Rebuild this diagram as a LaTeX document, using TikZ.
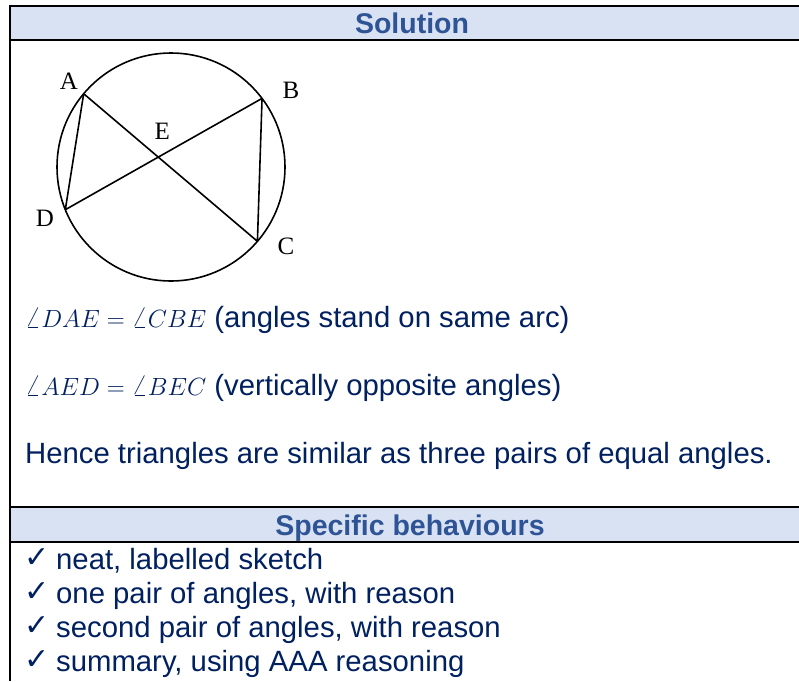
\documentclass[tikz,border=0pt]{standalone}
\usepackage{fontspec}
\setmainfont{Liberation Sans}
\newfontfamily\figfont{Liberation Serif}
\newfontfamily\tickfont{DejaVu Sans}
\usepackage{amsmath}
\usepackage{tikz}
\usetikzlibrary{calc, intersections}
\definecolor{headblue}{HTML}{2F5496}
\definecolor{headfill}{HTML}{D9E2F3}
\definecolor{textnavy}{HTML}{002060}

\begin{document}
\begin{tikzpicture}[x=1pt,y=1pt,
    rule/.style={line width=2.2pt},
    figline/.style={line width=1.6pt},
    headtext/.style={font=\fontsize{28.5}{30}\selectfont\bfseries, text=headblue, anchor=base, inner sep=0pt},
    bodytext/.style={font=\fontsize{29.3}{31}\selectfont, text=textnavy, anchor=base west, inner sep=0pt},
    ticktext/.style={font=\fontsize{30}{32}\selectfont\tickfont, text=textnavy, anchor=base west, inner sep=0pt},
    ptlabel/.style={font=\fontsize{25}{27}\selectfont\figfont, inner sep=0pt}]
    \useasboundingbox (0,0) rectangle (799,-681);
    \fill[white] (0,0) rectangle (799,-681);
    \fill[headfill] (10,-6) rectangle (799,-40);
    \fill[headfill] (10,-507) rectangle (799,-542);
    \foreach \y in {6,40,507,542}{
        \draw[rule] (9,-\y) -- (799,-\y);
    }
    \draw[rule] (10,-5) -- (10,-681);
    \node[headtext] (soltitle) at (412,-33) {Solution};
    \node[headtext] (behtitle) at (410,-535) {Specific behaviours};

    \begin{scope}[shift={(171,-167)}]
        \draw[figline] (0,0) circle (114);
        \coordinate (A) at (140:114);
        \coordinate (B) at (37:114);
        \coordinate (C) at (-40.7:114);
        \coordinate (D) at (202:114);
        \draw[figline] (A) -- (C) (B) -- (D) (A) -- (D) (B) -- (C);
        \coordinate (E) at (intersection of A--C and B--D);
    \end{scope}
    \node[ptlabel] (labA) at (69,-81) {A};
    \node[ptlabel] (labB) at (291,-90) {B};
    \node[ptlabel] (labC) at (286,-246) {C};
    \node[ptlabel] (labD) at (45,-218) {D};
    \node[ptlabel] (labE) at ($(E)+(4,26)$) {E};

    \node[bodytext] (arcline) at (25,-327) {$\angle DAE = \angle CBE$ (angles stand on same arc)};
    \node[bodytext] (vertline) at (25,-395) {$\angle AED = \angle BEC$ (vertically opposite angles)};
    \node[bodytext] (henceline) at (25,-463) {Hence triangles are similar as three pairs of equal angles.};

    \foreach \txt [count=\i] in {{neat, labelled sketch}, {one pair of angles, with reason}, {second pair of angles, with reason}, {summary, using AAA reasoning}}{
        \node[ticktext] (tick\i) at (24,{-567-34.3*(\i-1)}) {✓};
        \node[bodytext] (item\i) at (56,{-569-34.3*(\i-1)}) {\txt};
    }
\end{tikzpicture}
\end{document}
